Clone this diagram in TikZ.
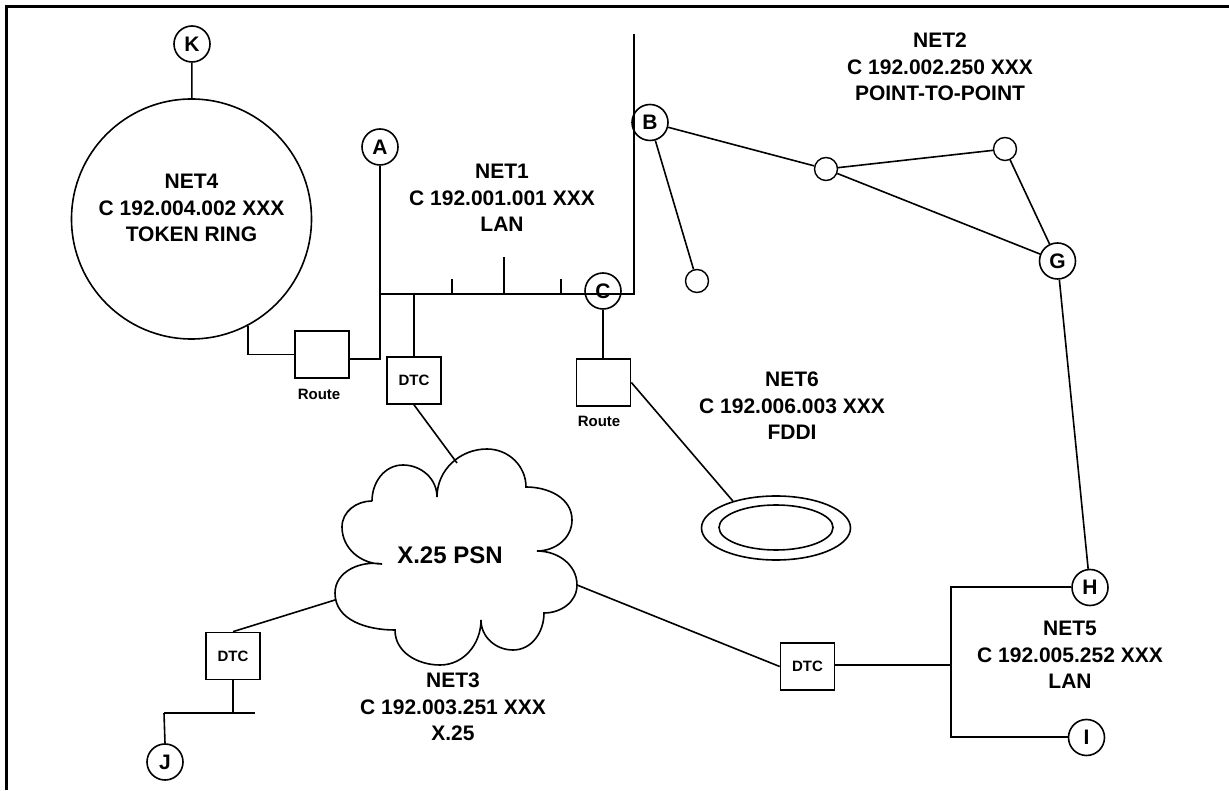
\documentclass[tikz,border=0pt]{standalone}
\usepackage{fontspec}
\setmainfont{Liberation Sans}
\usetikzlibrary{shapes.geometric}
\begin{document}
\begin{tikzpicture}[x=1pt,y=1pt,
  site/.style={circle,draw,line width=1.6pt,minimum size=36pt,inner sep=0pt,font=\fontsize{21}{21}\selectfont\bfseries},
  dot/.style={circle,draw,line width=1.4pt,minimum size=23pt,inner sep=0pt},
  box/.style={rectangle,draw,line width=1.7pt,minimum width=54pt,minimum height=47pt,inner sep=0pt,font=\fontsize{15}{15}\selectfont\bfseries},
  lbl/.style={align=center,font=\fontsize{21}{26.5}\selectfont\bfseries},
  small/.style={font=\fontsize{15}{15}\selectfont\bfseries},
  conn/.style={line width=1.6pt},
  bus/.style={line width=2pt}]
\useasboundingbox (0,0) rectangle (1229,790);
\draw[line width=3pt] (6,0) -- (6,783) -- (1229,783);

% nodes
\node[site] (K) at (192,746) {K};
\node[circle,draw,line width=1.6pt,minimum size=240pt,inner sep=0pt] (net4) at (191.5,571) {};
\node[lbl] (l4) at (191.5,582) {NET4\\C 192.004.002 XXX\\TOKEN RING};
\node[site] (A) at (380,643) {A};
\node[site] (B) at (650,667.5) {B};
\node[site] (G) at (1057.5,529) {G};
\node[site] (H) at (1090,202.5) {H};
\node[site] (I) at (1086.5,52.5) {I};
\node[site] (J) at (165,28) {J};
\node[dot] (s1) at (697,509) {};
\node[dot] (n1) at (826,621) {};
\node[dot] (n2) at (1005,641) {};
\node[box] (r1) at (322,435.5) {};
\node[small] (r1l) at (319,396) {Route};
\node[box] (r2) at (603.5,407.5) {};
\node[small] (r2l) at (599,369) {Route};
\node[box] (d1) at (414,409.5) {DTC};
\node[box] (d2) at (807.5,123.5) {DTC};
\node[box] (d3) at (233,134) {DTC};
\node[ellipse,draw,line width=1.6pt,minimum width=149pt,minimum height=64pt,inner sep=0pt] (fddi) at (776,262) {};
\node[ellipse,draw,line width=1.6pt,minimum width=114pt,minimum height=45pt,inner sep=0pt] (fddiin) at (776,262.5) {};

\node[lbl] (l1) at (502,592) {NET1\\C 192.001.001 XXX\\LAN};
\node[lbl] (l2) at (940,723) {NET2\\C 192.002.250 XXX\\POINT-TO-POINT};
\node[lbl] (l3) at (453,83) {NET3\\C 192.003.251 XXX\\X.25};
\node[lbl] (l5) at (1070,135) {NET5\\C 192.005.252 XXX\\LAN};
\node[lbl] (l6) at (792,384) {NET6\\C 192.006.003 XXX\\FDDI};

% cloud
\draw[conn] (372,289) to[out=180,in=90] (342,263) to[out=270,in=180] (382,226)
 to[out=170,in=90] (335,197) to[out=270,in=180] (395,160)
 to[out=270,in=180] (440,125) to[out=0,in=270] (481,170)
 to[out=270,in=180] (513,140) to[out=0,in=270] (544,177)
 to[out=0,in=270] (577,205) to[out=90,in=0] (537,239)
 to[out=0,in=270] (572,270) to[out=90,in=0] (526,303)
 to[out=90,in=0] (487,341) to[out=180,in=90] (437,293)
 to[out=90,in=0] (403,325) to[out=180,in=90] (372,289);
\node[font=\fontsize{24}{24}\selectfont\bfseries] (psn) at (450,235) {X.25 PSN};
\coordinate (cT) at (457,327);
\coordinate (cL) at (335,190);
\coordinate (cR) at (577,205);

% NET4 / Route1 / A
\draw[conn] (K) -- (net4);
\draw[conn] (net4.-62) |- (r1.west);
\coordinate (aR) at (380,431);
\draw[conn] (r1.east |- aR) -- (aR) -- (A);

% NET1 bus
\coordinate (bL) at (380,496);
\coordinate (bR) at (634,496);
\coordinate (bT) at (634,756);
\draw[bus] (bL) -- (bR) -- (bT);
\coordinate (t1) at (452,511);
\coordinate (t2) at (504,533);
\coordinate (t3) at (561,511);
\draw[conn] (t1 |- bL) -- (t1);
\draw[conn] (t2 |- bL) -- (t2);
\draw[conn] (t3 |- bL) -- (t3);
\draw[conn] (d1.north |- bL) -- (d1.north);
\node[site] (C) at (603,499) {C};
\draw[conn] (C) -- (C |- r2.north);
\draw[conn] (r2.east) -- (fddi.148);

% NET2
\draw[conn] (B) -- (s1);
\draw[conn] (B) -- (n1);
\draw[conn] (n1) -- (n2);
\draw[conn] (n1) -- (G);
\draw[conn] (n2) -- (G);
\draw[conn] (G) -- (H);

% X.25
\draw[conn] (d1.south) -- (cT);
\draw[conn] (cL) -- (d3.north);
\draw[conn] (cR) -- (d2.west);

% NET5
\coordinate (v5) at (951,125);
\draw[bus] (H.west) -- (H.west -| v5) -- (I.west -| v5) -- (I.west);
\draw[bus] (d2.east |- v5) -- (v5);

% J
\coordinate (jL) at (164,77);
\coordinate (jR) at (255,77);
\draw[conn] (d3.south) -- (d3.south |- jL);
\draw[bus] (jL) -- (jR);
\draw[conn] (jL) -- (J.north);
\end{tikzpicture}
\end{document}
